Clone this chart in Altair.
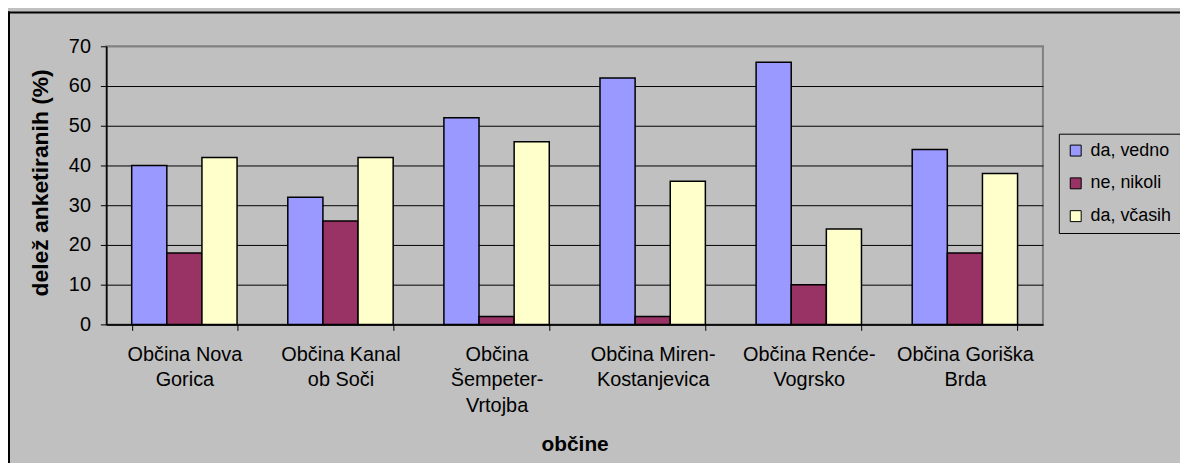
import json
import altair as alt
import pandas as pd

categories = [
    "Občina Nova Gorica",
    "Občina Kanal ob Soči",
    "Občina Šempeter-Vrtojba",
    "Občina Miren-Kostanjevica",
    "Občina Renće-Vogrsko",
    "Občina Goriška Brda",
]
category_lines = [
    ["Občina Nova", "Gorica"],
    ["Občina Kanal", "ob Soči"],
    ["Občina", "Šempeter-", "Vrtojba"],
    ["Občina Miren-", "Kostanjevica"],
    ["Občina Renće-", "Vogrsko"],
    ["Občina Goriška", "Brda"],
]
series = ["da, vedno", "ne, nikoli", "da, včasih"]
da_vedno = [40, 32, 52, 62, 66, 44]
ne_nikoli = [18, 26, 2, 2, 10, 18]
da_vcasih = [42, 42, 46, 36, 24, 38]
colors = ["#9999FF", "#993366", "#FFFFCC"]
y_ticks = [0, 10, 20, 30, 40, 50, 60, 70]

rows = []
for vals, s in zip([da_vedno, ne_nikoli, da_vcasih], series):
    for c, v in zip(categories, vals):
        rows.append({"obcina": c, "serija": s, "delez": v})
df = pd.DataFrame(rows)

FONT = "Liberation Sans, Arial, sans-serif"
label_map = json.dumps(dict(zip(categories, category_lines)), ensure_ascii=False)

bars = alt.Chart(df).mark_bar(stroke="black", strokeWidth=1.5).encode(
    x=alt.X(
        "obcina:N",
        sort=categories,
        scale=alt.Scale(paddingInner=0.325, paddingOuter=0.1625),
        axis=alt.Axis(
            title="občine",
            labelExpr=label_map + "[datum.label]",
            labelAngle=0,
            labelFontSize=20,
            labelLineHeight=26,
            labelPadding=14,
            labelBaseline="top",
            labelColor="black",
            labelFont=FONT,
            tickBand="extent",
            ticks=True,
            tickSize=6,
            tickColor="black",
            domainColor="black",
            domainWidth=1.5,
            grid=False,
            titleFontSize=21,
            titleFontWeight="bold",
            titleFont=FONT,
            titleColor="black",
            titleY=121,
            titleBaseline="middle",
        ),
    ),
    xOffset=alt.XOffset("serija:N", sort=series, scale=alt.Scale(paddingInner=0, paddingOuter=0)),
    y=alt.Y(
        "delez:Q",
        scale=alt.Scale(domain=[0, 70], nice=False),
        axis=alt.Axis(
            values=y_ticks,
            title="delež anketiranih (%)",
            labelFontSize=20,
            labelPadding=10,
            labelColor="black",
            labelFont=FONT,
            tickSize=6,
            tickColor="black",
            domainColor="black",
            domainWidth=1.5,
            grid=True,
            gridColor=alt.condition("datum.value === 70", alt.value("#808080"), alt.value("black")),
            gridWidth=1,
            titleFontSize=23,
            titleFontWeight="bold",
            titleFont=FONT,
            titleColor="black",
            titleX=-66,
            titleY=137,
            titleAngle=-90,
            titleAlign="center",
            titleBaseline="middle",
        ),
    ),
    color=alt.Color(
        "serija:N",
        sort=series,
        scale=alt.Scale(domain=series, range=colors),
        legend=alt.Legend(
            title=None,
            orient="none",
            legendX=959,
            legendY=88,
            padding=8,
            strokeColor="black",
            symbolType="square",
            symbolSize=121,
            symbolStrokeColor="black",
            symbolStrokeWidth=1,
            labelFontSize=18,
            labelFont=FONT,
            labelColor="black",
            labelOffset=6,
            rowPadding=15,
        ),
    ),
)

frame_top = alt.Chart(alt.Data(values=[{}])).mark_rule(color="black", strokeWidth=2).encode(
    x=alt.value(-100), x2=alt.value(1300), y=alt.value(-34)
)
frame_left = alt.Chart(alt.Data(values=[{}])).mark_rule(color="black", strokeWidth=2).encode(
    x=alt.value(-98), y=alt.value(-35), y2=alt.value(600)
)

chart = alt.layer(bars, frame_top, frame_left).properties(
    width=943,
    height=280,
    background="#C0C0C0",
    padding={"left": 99, "top": 37, "right": 138, "bottom": 138},
    autosize=alt.AutoSizeParams(type="none"),
).configure_view(stroke="#808080", strokeWidth=2)

chart.save("out.html", embed_options={"renderer": "svg", "actions": False})
